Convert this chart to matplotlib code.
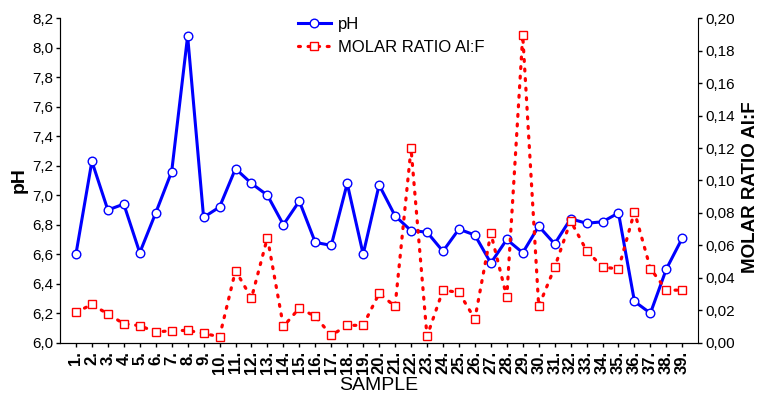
import matplotlib
matplotlib.use("Agg")
import matplotlib.pyplot as plt
from matplotlib.ticker import FuncFormatter, MultipleLocator

plt.rcParams['font.family'] = ['Liberation Sans', 'DejaVu Sans']

# data
samples = list(range(1, 40))
sample_labels = [f"{s}." for s in samples]

ph = [6.60, 7.23, 6.90, 6.94, 6.61, 6.88, 7.16, 8.08, 6.85, 6.92,
      7.18, 7.08, 7.00, 6.80, 6.96, 6.68, 6.66, 7.08, 6.60, 7.07,
      6.86, 6.76, 6.75, 6.62, 6.77, 6.73, 6.54, 6.70, 6.61, 6.79,
      6.67, 6.84, 6.81, 6.82, 6.88, 6.28, 6.20, 6.50, 6.71]

molar_ratio = [0.0187, 0.0236, 0.0177, 0.0117, 0.0105, 0.0066, 0.0074, 0.0076, 0.0057, 0.0037,
               0.0445, 0.0275, 0.0648, 0.0100, 0.0213, 0.0162, 0.0045, 0.0107, 0.0107, 0.0304,
               0.0224, 0.1198, 0.0039, 0.0324, 0.0310, 0.0146, 0.0675, 0.0281, 0.1895, 0.0224,
               0.0464, 0.0751, 0.0568, 0.0466, 0.0455, 0.0808, 0.0457, 0.0324, 0.0324]


def comma_fmt(decimals):
    return FuncFormatter(lambda v, pos: f"{v:.{decimals}f}".replace('.', ','))


fig = plt.figure(figsize=(7.6, 3.94), dpi=100)
ax = fig.add_axes([0.0789, 0.1302, 0.8399, 0.8234])
ax2 = ax.twinx()

l1, = ax.plot(samples, ph, color='#0000ff', lw=2.2, marker='o', markersize=6.2,
              markerfacecolor='white', markeredgecolor='#0000ff', markeredgewidth=1.0,
              label='pH', zorder=3)
l2, = ax2.plot(samples, molar_ratio, color='#ff0000', lw=2.3, linestyle=(0, (0.6, 2.4)),
               dash_capstyle='round', marker='s', markersize=6.2,
               markerfacecolor='white', markeredgecolor='#ff0000', markeredgewidth=1.0,
               label='MOLAR RATIO Al:F', zorder=3)

ax.set_xlim(0, 40)
ax.set_ylim(6.0, 8.2)
ax2.set_ylim(0.0, 0.20)

ax.yaxis.set_major_locator(MultipleLocator(0.2))
ax.yaxis.set_major_formatter(comma_fmt(1))
ax2.yaxis.set_major_locator(MultipleLocator(0.02))
ax2.yaxis.set_major_formatter(comma_fmt(2))

ax.set_xticks(samples)
ax.set_xticklabels(sample_labels, rotation=90, fontsize=12, fontweight='bold')

for a in (ax, ax2):
    a.spines['top'].set_visible(False)
    a.tick_params(direction='out', length=3, width=1, labelsize=11, pad=2)
ax.tick_params(axis='x', pad=3, labelsize=12)
ax.spines['right'].set_visible(False)
ax.spines['left'].set_color('#555555')

ax.set_xlabel('SAMPLE', fontsize=14, labelpad=2)
ax.set_ylabel('pH', fontsize=14, fontweight='bold', labelpad=3)
ax2.set_ylabel('MOLAR RATIO Al:F', fontsize=13.5, fontweight='bold', labelpad=5)
ax2.yaxis.label.set_y(0.48)

fig.legend(handles=[l1, l2], loc='upper left', bbox_to_anchor=(0.383, 0.975),
           frameon=False, fontsize=12, handlelength=2.0, handletextpad=0.4,
           labelspacing=0.5, borderaxespad=0)

fig.savefig('out.png', dpi=100)
